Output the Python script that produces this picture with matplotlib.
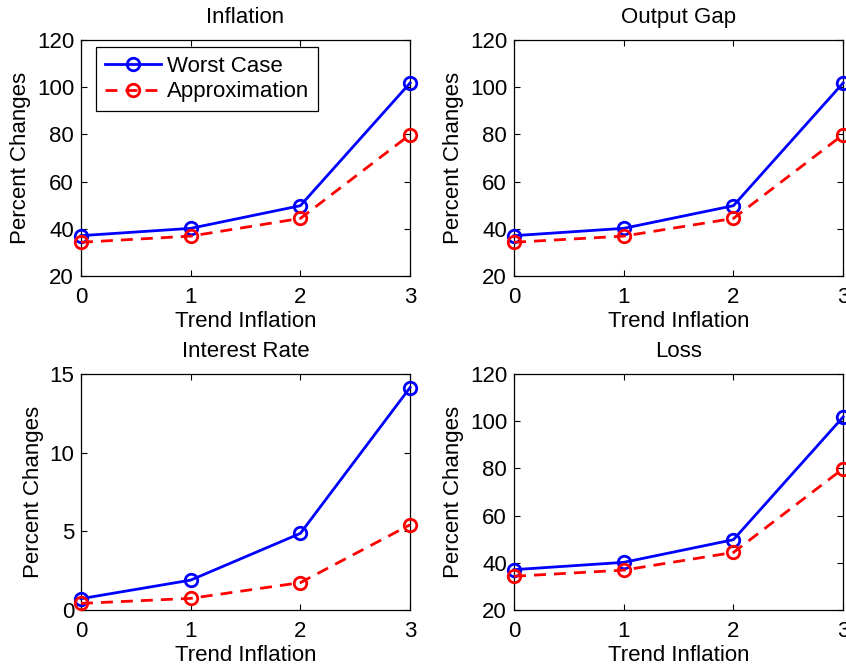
import matplotlib
matplotlib.use('Agg')
import matplotlib.pyplot as plt

plt.rcParams['font.family'] = ['Liberation Sans', 'DejaVu Sans']

trend = [0, 1, 2, 3]

infl_worst = [37.1, 40.2, 49.8, 101.8]
infl_approx = [34.3, 36.9, 44.4, 79.9]
gap_worst = [37.1, 40.2, 49.8, 101.8]
gap_approx = [34.3, 36.9, 44.4, 79.9]
rate_worst = [0.72, 1.9, 4.87, 14.14]
rate_approx = [0.42, 0.74, 1.74, 5.42]
loss_worst = [37.1, 40.2, 49.8, 101.8]
loss_approx = [34.3, 36.9, 44.4, 79.9]

titles = ['Inflation', 'Output Gap', 'Interest Rate', 'Loss']
yticks_pct = [20, 40, 60, 80, 100, 120]
yticks_rate = [0, 5, 10, 15]

fig = plt.figure(figsize=(8.46, 6.68), dpi=100)

# axes boxes in figure fractions (MATLAB-like subplot layout)
boxes = [[0.0957, 0.5868, 0.389, 0.3533],
         [0.6076, 0.5868, 0.389, 0.3533],
         [0.0957, 0.0868, 0.389, 0.3533],
         [0.6076, 0.0868, 0.389, 0.3533]]

data = [(infl_worst, infl_approx, yticks_pct),
        (gap_worst, gap_approx, yticks_pct),
        (rate_worst, rate_approx, yticks_rate),
        (loss_worst, loss_approx, yticks_pct)]

fs = 16
for i in range(4):
    ax = fig.add_axes(boxes[i])
    worst, approx, yt = data[i]
    ax.plot(trend, worst, '-o', color='#0000ff', lw=2, ms=9, mew=2,
            mfc='none', label='Worst Case', clip_on=False, zorder=3)
    ax.plot(trend, approx, '--o', color='#ff0000', lw=2, ms=9, mew=2,
            mfc='none', label='Approximation', clip_on=False, zorder=3,
            dashes=(4.3, 2.9))
    ax.set_xlim(0, 3)
    ax.set_ylim(yt[0], yt[-1])
    ax.set_xticks(trend)
    ax.set_yticks(yt)
    ax.tick_params(direction='in', top=True, right=True, labelsize=fs,
                   length=4, width=0.8)
    ax.tick_params(axis='x', pad=8)
    ax.tick_params(axis='y', pad=5)
    for s in ax.spines.values():
        s.set_linewidth(0.9)
    ax.set_title(titles[i], fontsize=fs, pad=12)
    ax.set_xlabel('Trend Inflation', fontsize=fs, labelpad=2)
    ax.set_ylabel('Percent Changes', fontsize=fs, labelpad=4)
    if i == 0:
        leg = ax.legend(loc='upper left', bbox_to_anchor=(0.046, 0.97),
                        fontsize=fs, numpoints=1, handlelength=2.5,
                        fancybox=False, framealpha=1, edgecolor='black',
                        borderpad=0.4, labelspacing=0.2,
                        handletextpad=0.3, borderaxespad=0)
        leg.get_frame().set_linewidth(0.9)

fig.savefig('out.png', dpi=100)
